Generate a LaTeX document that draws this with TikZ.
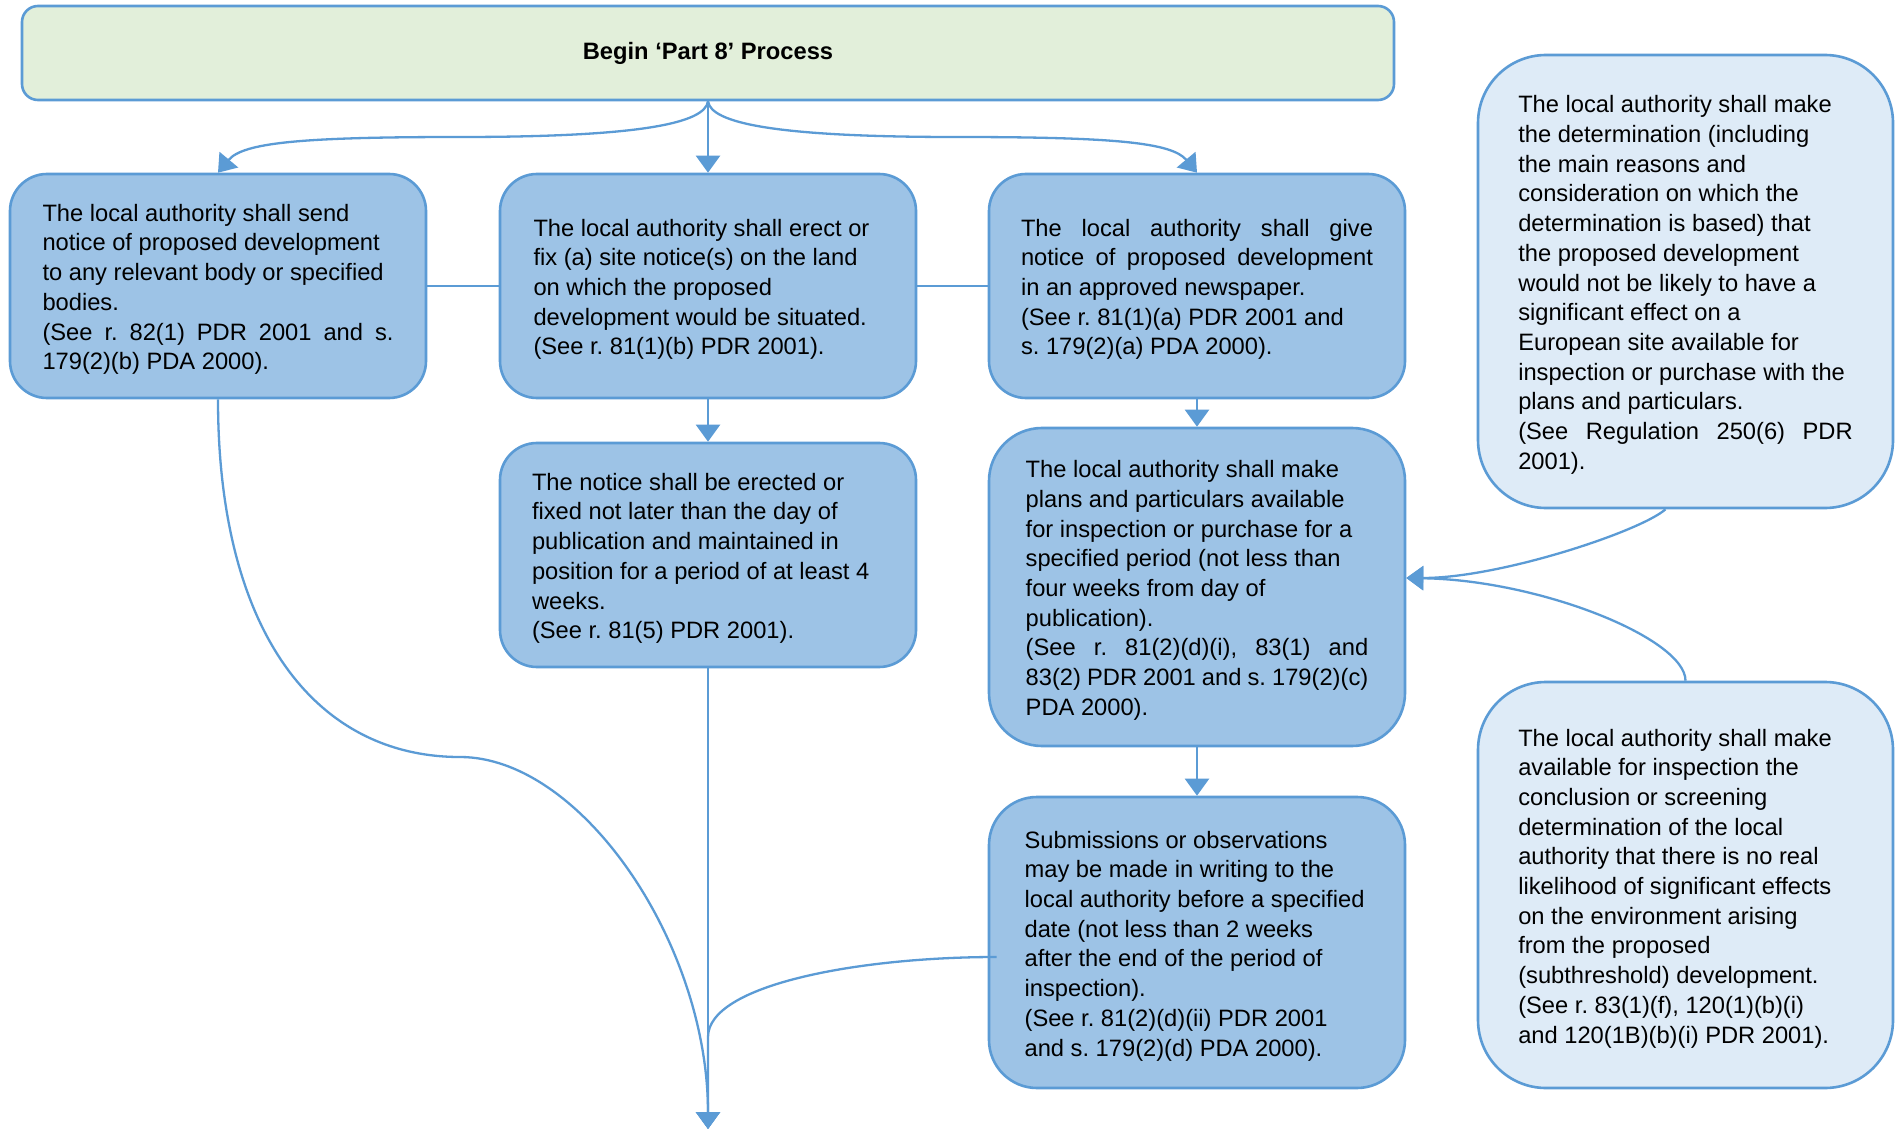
\documentclass[tikz,border=0pt]{standalone}
\usepackage{fontspec}
\setmainfont{Liberation Sans}
\usetikzlibrary{arrows.meta}
\definecolor{lineblue}{HTML}{5B9BD5}
\definecolor{boxblue}{HTML}{9DC3E6}
\definecolor{boxpale}{HTML}{DEEBF7}
\definecolor{startgreen}{HTML}{E2EFDA}
% first line of a box, padded to the column width, with some headroom above
\newcommand\fl[2]{\rule{0pt}{24pt}\makebox[#1][l]{#2}}
% fully justified line of a box
\newcommand\jl[2]{\makebox[#1][s]{#2}}
% fully justified first line, with the same headroom
\newcommand\fjl[2]{\rule{0pt}{24pt}\makebox[#1][s]{#2}}
\begin{document}
\begin{tikzpicture}[x=1pt,y=-1pt,
  txt/.style={font=\fontsize{23.7}{29.7}\selectfont\frenchspacing},
  startbox/.style={txt, draw=lineblue, line width=2.6pt, fill=startgreen, inner sep=0pt},
  bluebox/.style={txt, draw=lineblue, line width=2.6pt, fill=boxblue, align=left, inner sep=0pt},
  palebox/.style={bluebox, fill=boxpale},
  conn/.style={draw=lineblue, line width=2.3pt},
  arr/.style={conn, -{Triangle[width=24pt,length=17pt]}}]
\fill[white] (0,0) rectangle (1898,1131);
\path[use as bounding box] (0,0) rectangle (1898,1131);

% start of the process
\node[startbox, minimum width=1372pt, minimum height=94pt, rounded corners=16pt] (top) at (708,53)
  {\bfseries Begin ‘Part 8’ Process};

% first row: the three forms of notice
\node[bluebox, minimum width=416pt, minimum height=224pt, rounded corners=37pt] (A) at (218,286)
  {\fl{351pt}{The local authority shall send}\\notice of proposed development\\to any relevant body or specified\\bodies.\\
   \jl{351pt}{(See r. 82(1) PDR 2001 and s.}\\179(2)(b) PDA 2000).};
\node[bluebox, minimum width=416pt, minimum height=224pt, rounded corners=37pt] (B) at (708,286)
  {\fl{349pt}{The local authority shall erect or}\\fix (a) site notice(s) on the land\\on which the proposed\\development would be situated.\\(See r. 81(1)(b) PDR 2001).};
\node[bluebox, minimum width=416pt, minimum height=224pt, rounded corners=37pt] (C) at (1197,286)
  {\fjl{352pt}{The local authority shall give}\\\jl{352pt}{notice of proposed development}\\in an approved newspaper.\\(See r. 81(1)(a) PDR 2001 and\\s. 179(2)(a) PDA 2000).};

% follow-up steps
\node[bluebox, minimum width=416pt, minimum height=224pt, rounded corners=37pt] (D) at (708,555)
  {\fl{352pt}{The notice shall be erected or}\\fixed not later than the day of\\publication and maintained in\\position for a period of at least 4\\weeks.\\(See r. 81(5) PDR 2001).};
\node[bluebox, minimum width=416pt, minimum height=318pt, rounded corners=53pt] (E) at (1197,587)
  {\fl{342.6pt}{The local authority shall make}\\plans and particulars available\\for inspection or purchase for a\\specified period (not less than\\four weeks from day of\\publication).\\
   \jl{342.6pt}{(See r. 81(2)(d)(i), 83(1) and}\\\jl{342.6pt}{83(2) PDR 2001 and s. 179(2)(c)}\\PDA 2000).};
\node[bluebox, minimum width=416pt, minimum height=291pt, rounded corners=48pt] (F) at (1197,942.5)
  {\fl{344.8pt}{Submissions or observations}\\may be made in writing to the\\local authority before a specified\\date (not less than 2 weeks\\after the end of the period of\\inspection).\\(See r. 81(2)(d)(ii) PDR 2001\\and s. 179(2)(d) PDA 2000).};

% environmental determinations
\node[palebox, minimum width=415pt, minimum height=453pt, rounded corners=68pt] (G) at (1685.5,281.5)
  {\fl{334.5pt}{The local authority shall make}\\the determination (including\\the main reasons and\\consideration on which the\\determination is based) that\\the proposed development\\would not be likely to have a\\significant effect on a\\European site available for\\inspection or purchase with the\\plans and particulars.\\
   \jl{334.5pt}{(See Regulation 250(6) PDR}\\2001).};
\node[palebox, minimum width=415pt, minimum height=406pt, rounded corners=68pt] (H) at (1685.5,885)
  {\fl{334.5pt}{The local authority shall make}\\available for inspection the\\conclusion or screening\\determination of the local\\authority that there is no real\\likelihood of significant effects\\on the environment arising\\from the proposed\\(subthreshold) development.\\(See r. 83(1)(f), 120(1)(b)(i)\\and 120(1B)(b)(i) PDR 2001).};

% connection points
\coordinate (out) at (708,1129);
\coordinate (tl) at (460,137);
\coordinate (tr) at (956,137);
\coordinate (bl) at (460,757);
\coordinate (fj) at (708,1037);

% connectors from the start box
\draw[arr] (top.south) -- (B.north);
\draw[arr] (top.south) .. controls +(-3,22) and +(180,0) .. (tl)
  .. controls +(-160,0) and +(25,-30) .. (A.north);
\draw[arr] (top.south) .. controls +(3,22) and +(-180,0) .. (tr)
  .. controls +(160,0) and +(-25,-30) .. (C.north);

% links between the notice boxes
\draw[conn] (A.east) -- (B.west);
\draw[conn] (B.east) -- (C.west);

% vertical flow
\draw[arr] (B.south) -- (D.north);
\draw[arr] (C.south) -- (E.north);
\draw[arr] (E.south) -- (F.north);
\draw[arr] (D.south) -- (out);
\draw[arr] (A.south) .. controls +(0,232) and +(-145,0) .. (bl)
  .. controls +(121,0) and +(0,-186) .. (out);
\draw[arr] ([xshift=9pt,yshift=-14.5pt]F.west) .. controls +(-139,0) and +(0,-52) .. (fj) -- (out);

% determinations feeding the inspection step
\draw[arr] ([xshift=-20pt]G.south) .. controls +(-25,22) and +(94,0) .. ([yshift=9pt]E.east);
\draw[arr] (H.north) .. controls +(0,-42) and +(134,2) .. ([yshift=9pt]E.east);
\end{tikzpicture}
\end{document}
